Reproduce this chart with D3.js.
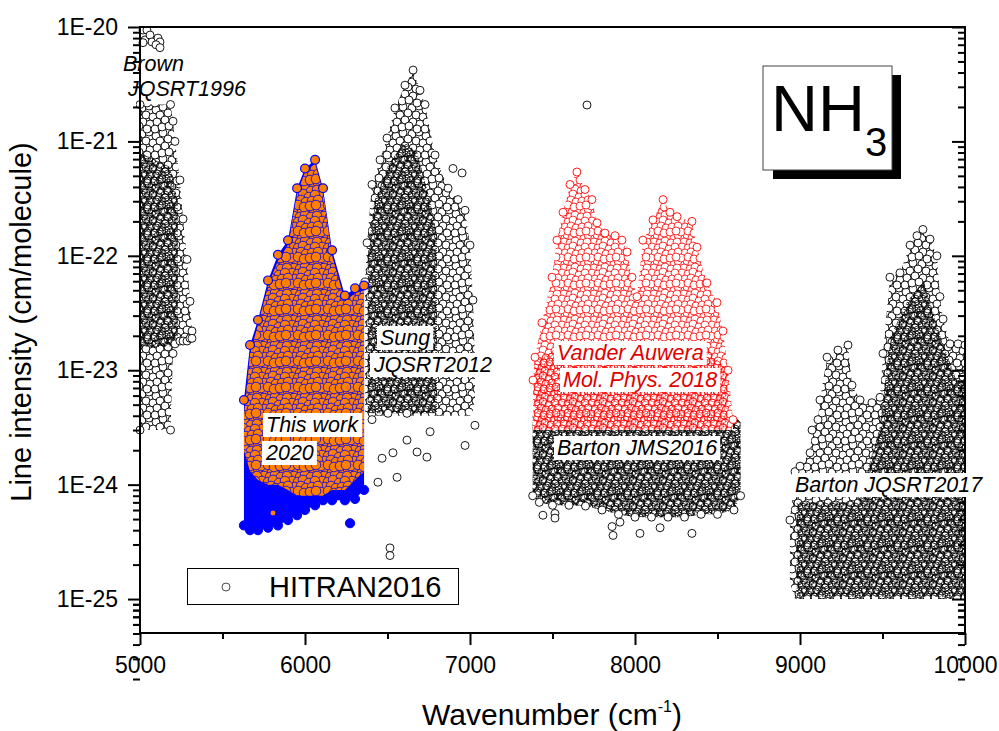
<!DOCTYPE html>
<html>
<head>
<meta charset="utf-8">
<script src="https://cdn.jsdelivr.net/npm/d3@7"></script>
<style>
body { margin: 0; background: #fff; }
text { font-family: "Liberation Sans", Arial, sans-serif; }
</style>
</head>
<body>
<script>
// ---------- data ----------
// each band: wavenumber columns with upper / lower edge of the line cloud (cm/molecule)

// Brown JQSRT1996
var brownWn  = [5000, 5185, 5200, 5212, 5242, 5261, 5285, 5303, 5315];
var brownTop = [2.1e-21, 2.1e-21, 1.5e-21, 1e-21, 4.6e-22, 2.1e-22, 9.3e-23, 4e-23, 2.2e-23];
var brownBot = [3e-24, 3e-24, 1.4e-23, 1.7e-23, 1.8e-23, 1.8e-23, 1.8e-23, 1.9e-23, 1.9e-23];
var brownCoreWn  = [5000, 5180, 5230];
var brownCoreTop = [8e-22, 6e-22, 3e-22];
var brownCoreBot = [1.6e-23, 1.6e-23, 1.9e-23];
// strong Brown lines above the label
var brownPtWn  = [5018, 5042, 5030, 5061, 5073, 5109, 5121, 5018, 5097, 5121];
var brownPtInt = [9.4e-21, 9.4e-21, 7.7e-21, 8.5e-21, 7.4e-21, 8e-21, 7.4e-21, 7.3e-21, 7e-21, 6.6e-21];

// Sung JQSRT2012 (HITRAN)
var sungWn  = [6364, 6376, 6406, 6455, 6497, 6545, 6606, 6655, 6697, 6727, 6788, 6867, 6927, 6970, 7000, 7018, 7030];
var sungTop = [5.9e-23, 1.3e-22, 4.2e-22, 6.9e-22, 1.07e-21, 1.96e-21, 3.1e-21, 4.2e-21, 2.8e-21, 2.1e-21, 7.6e-22, 3.9e-22, 3.1e-22, 2.5e-22, 1.24e-22, 4.1e-23, 1.23e-23];
var sungBot = [4e-24, 4e-24, 4e-24, 4e-24, 4e-24, 4e-24, 4e-24, 4e-24, 4e-24, 4e-24, 4e-24, 4e-24, 4e-24, 4e-24, 4e-24, 4.5e-24, 5.4e-24];
var sungCoreWn  = [6380, 6420, 6500, 6600, 6680, 6760, 6800];
var sungCoreTop = [1e-22, 3e-22, 6e-22, 1e-21, 8e-22, 3e-22, 1.5e-22];
var sungCoreBot = [4.2e-24, 4.2e-24, 4.2e-24, 4.2e-24, 4.2e-24, 4.2e-24, 4.2e-24];
var sungOutWn  = [6503, 6618, 6758, 6618, 6679, 6739, 6533, 6467, 6558, 6442, 6970, 7030, 6406, 6515, 6515, 6897, 6952];
var sungOutInt = [4.2e-24, 4.2e-24, 2.9e-24, 2.45e-24, 1.93e-24, 1.74e-24, 1.9e-24, 1.7e-24, 1.16e-24, 1.05e-24, 2.2e-24, 3.3e-24, 3.7e-24, 2.8e-25, 2.4e-25, 5.8e-22, 5.3e-22];

// This work 2020
var thisWn   = [5630, 5667, 5715, 5776, 5836, 5897, 5952, 6000, 6061, 6109, 6164, 6242, 6303, 6358];
var thisTop  = [5.5e-24, 1.66e-23, 2.75e-23, 6.1e-23, 1.02e-22, 1.37e-22, 3.9e-22, 5.8e-22, 6.9e-22, 3.9e-22, 1.12e-22, 4.5e-23, 5.2e-23, 5.5e-23];
var thisBot  = [4.4e-25, 4e-25, 4e-25, 4.2e-25, 4.4e-25, 4.9e-25, 5.4e-25, 6e-25, 6.6e-25, 7.3e-25, 7.3e-25, 7.3e-25, 7.5e-25, 9e-25];
var thisOrTop = [4e-24, 1.4e-23, 2.5e-23, 5.5e-23, 9e-23, 1.25e-22, 3.5e-22, 5.4e-22, 6.4e-22, 3.6e-22, 1e-22, 4e-23, 4.7e-23, 5e-23];
var thisOrBot = [2e-24, 1.3e-24, 1.1e-24, 1e-24, 1e-24, 9e-25, 8e-25, 8e-25, 8e-25, 8e-25, 9e-25, 9e-25, 1.1e-24, 1.3e-24];
var thisOutWn  = [6273, 5806];
var thisOutInt = [4.6e-25, 5.65e-25];

// Vander Auwera Mol. Phys. 2018
var vaWn  = [7382, 7394, 7436, 7497, 7527, 7564, 7606, 7648, 7697, 7739, 7770, 7818, 7879, 7921, 7952, 7982, 8012, 8048, 8109, 8170, 8212, 8255, 8345, 8376, 8436, 8497, 8533, 8564, 8594];
var vaTop = [8.2e-24, 1.3e-23, 2.6e-23, 6.5e-23, 1.37e-22, 2.4e-22, 4.2e-22, 5.4e-22, 3.8e-22, 3.1e-22, 1.94e-22, 1.58e-22, 1.5e-22, 1.37e-22, 1.08e-22, 6.5e-23, 4.4e-23, 1.37e-22, 2.06e-22, 3.1e-22, 2.4e-22, 2.2e-22, 2e-22, 1.19e-22, 5.8e-23, 3.9e-23, 2.2e-23, 1e-23, 3.7e-24];
var vaBot = [3e-24, 3e-24, 3e-24, 3e-24, 3e-24, 3e-24, 3e-24, 3e-24, 3e-24, 3e-24, 3e-24, 3e-24, 3e-24, 3e-24, 3e-24, 3e-24, 3e-24, 3e-24, 3e-24, 3e-24, 3e-24, 3e-24, 3e-24, 3e-24, 3e-24, 3e-24, 3e-24, 3e-24, 3e-24];
var vaCoreWn  = [7390, 7600, 7800, 8000, 8200, 8400, 8560];
var vaCoreTop = [1.2e-23, 1.8e-23, 1.8e-23, 1.5e-23, 1.8e-23, 1.8e-23, 1e-23];
var vaCoreBot = [3e-24, 3e-24, 3e-24, 3e-24, 3e-24, 3e-24, 3e-24];

// Barton JMS2016
var bjWn  = [7380, 7420, 7500, 7600, 7700, 7800, 7900, 8000, 8100, 8200, 8300, 8400, 8500, 8600, 8640];
var bjTop = [4e-24, 4e-24, 4e-24, 4e-24, 4e-24, 4e-24, 4e-24, 4e-24, 4e-24, 4e-24, 4e-24, 4e-24, 4e-24, 4e-24, 3.5e-24];
var bjBot = [8e-25, 7e-25, 6.6e-25, 6.6e-25, 6.5e-25, 6e-25, 5.5e-25, 5.2e-25, 5.2e-25, 5.2e-25, 5.2e-25, 5.5e-25, 5.5e-25, 6e-25, 8e-25];
var bjOutWn  = [7442, 7515, 7515, 7861, 7867, 7909, 8030, 8152, 8345, 7709];
var bjOutInt = [5.4e-25, 5.6e-25, 5.1e-25, 4.3e-25, 3.6e-25, 4.7e-25, 3.75e-25, 4.2e-25, 3.75e-25, 2.08e-21];

// Barton JQSRT2017
var bqWn  = [8939, 8970, 9000, 9061, 9073, 9109, 9121, 9164, 9230, 9291, 9315, 9364, 9436, 9485, 9503, 9545, 9606, 9667, 9709, 9745, 9788, 9830, 9848, 9867, 9909, 9958, 10000];
var bqTop = [4.9e-25, 1.3e-24, 1.45e-24, 1.9e-24, 3e-24, 3.7e-24, 5.5e-24, 1.3e-23, 1.5e-23, 1.66e-23, 7.4e-24, 5.5e-24, 5.2e-24, 5.8e-24, 1.4e-23, 6.5e-23, 7.1e-23, 1.24e-22, 1.5e-22, 1.7e-22, 1.4e-22, 1e-22, 4.4e-23, 2.8e-23, 1.7e-23, 1.7e-23, 1.66e-23];
var bqBot = [1.4e-25, 1e-25, 1e-25, 1e-25, 1e-25, 1e-25, 1e-25, 1e-25, 1e-25, 1e-25, 1e-25, 1e-25, 1e-25, 1e-25, 1e-25, 1e-25, 1e-25, 1e-25, 1e-25, 1e-25, 1e-25, 1e-25, 1e-25, 1e-25, 1e-25, 1e-25, 1e-25];
var bqCoreWn  = [8980, 9350, 9480, 9550, 9650, 9750, 9850, 9950, 10000];
var bqCoreTop = [7e-25, 7e-25, 3e-24, 2e-23, 4e-23, 6e-23, 2e-23, 8e-24, 8e-24];
var bqCoreBot = [1.05e-25, 1.05e-25, 1.05e-25, 1.05e-25, 1.05e-25, 1.05e-25, 1.05e-25, 1.05e-25, 1.05e-25];

// axis ticks
var xTicks = [5000, 6000, 7000, 8000, 9000, 10000];
var xMinor = [5500, 6500, 7500, 8500, 9500];
var yTicks = [1e-25, 1e-24, 1e-23, 1e-22, 1e-21, 1e-20];

// ---------- layout ----------
var margin = {top: 27, right: 34, bottom: 98, left: 140},
    width = 999 - margin.left - margin.right,
    height = 731 - margin.top - margin.bottom;

var x = d3.scaleLinear().domain([5000, 10000]).range([0, width]);
var y = d3.scaleLog().domain([5.05e-26, 1e-20]).range([height, 0]);

var root = d3.select("body").append("svg")
    .attr("width", 999)
    .attr("height", 731);
var defs = root.append("defs");
var svg = root.append("g")
    .attr("transform", "translate(" + margin.left + "," + margin.top + ")");

defs.append("clipPath").attr("id", "plotclip")
  .append("rect").attr("x", -4).attr("y", 0).attr("width", width + 4).attr("height", height);

// circle textures for the dense line clouds (marker layout inside one tile)
var sparseCenters = [[2,3],[9,1],[16,5],[23,2],[28,8],[6,10],[13,12],[20,10],[3,17],[10,19],[17,17],[25,15],[7,24],[15,24],[22,22],[29,21]];
var denseCenters = [[1,2],[7,0],[12,3],[18,1],[24,3],[28,0],[4,7],[10,8],[15,6],[21,8],[27,7],
                    [2,12],[8,13],[13,11],[19,14],[25,12],[5,18],[11,17],[16,19],[22,18],[28,17],
                    [1,23],[8,22],[14,24],[20,23],[26,22]];

function makePattern(id, w, h, centers, r, fill, stroke, sw) {
    var p = defs.append("pattern")
        .attr("id", id)
        .attr("patternUnits", "userSpaceOnUse")
        .attr("width", w).attr("height", h);
    centers.forEach(function(c) {
        [-1, 0, 1].forEach(function(dx) {
            [-1, 0, 1].forEach(function(dy) {
                p.append("circle")
                    .attr("cx", c[0] + dx * w).attr("cy", c[1] + dy * h)
                    .attr("r", r)
                    .attr("fill", fill).attr("stroke", stroke).attr("stroke-width", sw);
            });
        });
    });
}
makePattern("kSparse", 30, 26, sparseCenters, 4, "#fff", "#000", 0.9);
makePattern("kDense", 30, 26, denseCenters, 4, "none", "#000", 0.75);
makePattern("rMid", 30, 26, denseCenters, 4, "#fff", "#f00", 0.8);
makePattern("rDense", 30, 26, denseCenters, 4, "none", "#f00", 0.55);
makePattern("orange", 30, 26, denseCenters, 4.8, "#ff8000", "#0000ff", 0.85);

var area = d3.area()
    .x(function(d) { return x(d.w); })
    .y0(function(d) { return y(d.b); })
    .y1(function(d) { return y(d.t); });

function rows(wn, top, bot) {
    return wn.map(function(w, i) { return {w: w, t: top[i], b: bot[i]}; });
}

var data = svg.append("g").attr("clip-path", "url(#plotclip)");

function cloud(wn, top, bot, fill) {
    data.append("path")
        .datum(rows(wn, top, bot))
        .attr("d", area)
        .attr("fill", fill);
}

function dots(wn, vals, r, fill, stroke, sw) {
    data.append("g").selectAll("circle")
        .data(wn.map(function(w, i) { return {w: w, v: vals[i]}; }))
        .enter().append("circle")
        .attr("cx", function(d) { return x(d.w); })
        .attr("cy", function(d) { return y(d.v); })
        .attr("r", r)
        .attr("fill", fill)
        .attr("stroke", stroke)
        .attr("stroke-width", sw);
}

// Brown
cloud(brownWn, brownTop, brownBot, "url(#kSparse)");
cloud(brownCoreWn, brownCoreTop, brownCoreBot, "url(#kDense)");
dots(brownWn, brownTop, 4, "#fff", "#000", 0.9);
dots(brownWn, brownBot, 4, "#fff", "#000", 0.9);
dots(brownPtWn, brownPtInt, 4, "#fff", "#000", 0.9);

// Sung / HITRAN
cloud(sungWn, sungTop, sungBot, "url(#kSparse)");
cloud(sungCoreWn, sungCoreTop, sungCoreBot, "url(#kDense)");
dots(sungWn, sungTop, 4, "#fff", "#000", 0.9);
dots(sungOutWn, sungOutInt, 4, "#fff", "#000", 0.9);

// Barton JMS2016 then Vander Auwera on top
cloud(bjWn, bjTop, bjBot, "url(#kSparse)");
cloud(bjWn, bjTop, bjBot, "url(#kDense)");
dots(bjWn, bjBot, 4, "#fff", "#000", 0.9);
dots(bjOutWn, bjOutInt, 4, "#fff", "#000", 0.9);
cloud(vaWn, vaTop, vaBot, "url(#rMid)");
cloud(vaCoreWn, vaCoreTop, vaCoreBot, "url(#rDense)");
dots(vaWn, vaTop, 4, "#fff", "#f00", 0.9);

// Barton JQSRT2017
cloud(bqWn, bqTop, bqBot, "url(#kSparse)");
cloud(bqCoreWn, bqCoreTop, bqCoreBot, "url(#kDense)");
dots(bqWn, bqTop, 4, "#fff", "#000", 0.9);

// This work 2020
cloud(thisWn, thisTop, thisBot, "#0000ff");
dots(thisWn, thisBot, 4.6, "#0000ff", "#0000ff", 1);
cloud(thisWn, thisOrTop, thisOrBot, "url(#orange)");
dots(thisWn, thisTop, 4.4, "#ff8000", "#0000ff", 1.2);
dots(thisOutWn.slice(0, 1), thisOutInt.slice(0, 1), 4.6, "#0000ff", "#0000ff", 1);
dots(thisOutWn.slice(1), thisOutInt.slice(1), 3, "#ff8000", "#0000ff", 1);

// ---------- annotations (white boxes behind italic text) ----------
var annText = ["Brown", "JQSRT1996", "Sung", "JQSRT2012", "This work", "2020",
               "Vander Auwera", "Mol. Phys. 2018", "Barton JMS2016", "Barton JQSRT2017"];
var annPos = [[123, 71], [128, 96], [380, 345], [374, 372], [266, 432], [266, 460],
              [557, 360], [563, 387], [557, 455], [795, 492]];
var annColor = ["#000", "#000", "#000", "#000", "#000", "#000", "#e00000", "#e00000", "#000", "#000"];

var ann = root.append("g");
annText.forEach(function(t, i) {
    var g = ann.append("g");
    var txt = g.append("text")
        .attr("x", annPos[i][0]).attr("y", annPos[i][1])
        .style("font-size", "21.5px")
        .style("font-style", "italic")
        .attr("fill", annColor[i])
        .text(t);
    var bb = txt.node().getBBox();
    if (i > 1) {
        g.insert("rect", "text")
            .attr("x", bb.x - 3).attr("y", bb.y)
            .attr("width", bb.width + 6).attr("height", bb.height)
            .attr("fill", "#fff");
    }
});

// NH3 box with shadow
root.append("rect").attr("x", 773).attr("y", 75).attr("width", 128).attr("height", 104).attr("fill", "#000");
root.append("rect").attr("x", 763).attr("y", 66).attr("width", 129).attr("height", 104)
    .attr("fill", "#fff").attr("stroke", "#444").attr("stroke-width", 1);
var nh = root.append("text").attr("x", 771).attr("y", 131).style("font-size", "65px");
nh.append("tspan").text("NH");
nh.append("tspan").attr("dy", 25).style("font-size", "40px").text("3");

// legend
root.append("rect").attr("x", 187.5).attr("y", 568.5).attr("width", 271).attr("height", 36)
    .attr("fill", "#fff").attr("stroke", "#000").attr("stroke-width", 1);
root.append("circle").attr("cx", 226).attr("cy", 587).attr("r", 4)
    .attr("fill", "#fff").attr("stroke", "#333").attr("stroke-width", 0.9);
root.append("text").attr("x", 269).attr("y", 597).style("font-size", "29px").text("HITRAN2016");

// ---------- axes ----------
var fmt = function(d) { return "1E" + Math.round(Math.log10(d)); };
var minorY = [];
yTicks.forEach(function(d) { for (var k = 2; k < 10; k++) minorY.push(d * k / 10); });
minorY.push(6e-26, 7e-26, 8e-26, 9e-26);

function styleAxis(g) {
    g.select(".domain").remove();
    g.selectAll("line").attr("stroke", "#000").attr("stroke-width", 2);
    g.selectAll("text").style("font-size", "23px").attr("fill", "#000")
        .style("font-family", "'Liberation Sans', Arial, sans-serif");
}

svg.append("g")
    .call(d3.axisLeft(y).tickValues(yTicks).tickFormat(fmt).tickSize(12).tickPadding(10))
    .call(styleAxis);
svg.append("g")
    .call(d3.axisLeft(y).tickValues(minorY).tickFormat("").tickSize(7))
    .call(styleAxis);
// right axis, ticks inward
svg.append("g").attr("transform", "translate(" + width + ",0)")
    .call(d3.axisLeft(y).tickValues(yTicks).tickFormat("").tickSize(13))
    .call(styleAxis);
svg.append("g").attr("transform", "translate(" + width + ",0)")
    .call(d3.axisLeft(y).tickValues(minorY).tickFormat("").tickSize(7))
    .call(styleAxis);

svg.append("g").attr("transform", "translate(0," + height + ")")
    .call(d3.axisBottom(x).tickValues(xTicks).tickFormat(d3.format("d")).tickSize(12).tickPadding(12))
    .call(styleAxis);
svg.append("g").attr("transform", "translate(0," + height + ")")
    .call(d3.axisBottom(x).tickValues(xMinor).tickFormat("").tickSize(6))
    .call(styleAxis);

// frame
svg.append("rect")
    .attr("width", width).attr("height", height)
    .attr("fill", "none").attr("stroke", "#000").attr("stroke-width", 2);

// axis titles
var xt = root.append("text")
    .attr("x", 552).attr("y", 725)
    .attr("text-anchor", "middle")
    .style("font-size", "30px");
xt.append("tspan").text("Wavenumber (cm");
xt.append("tspan").attr("dy", -13).style("font-size", "16px").text("-1");
xt.append("tspan").attr("dy", 13).text(")");

root.append("text")
    .attr("transform", "translate(31,322) rotate(-90)")
    .attr("text-anchor", "middle")
    .style("font-size", "29px")
    .text("Line intensity (cm/molecule)");
</script>
</body>
</html>
